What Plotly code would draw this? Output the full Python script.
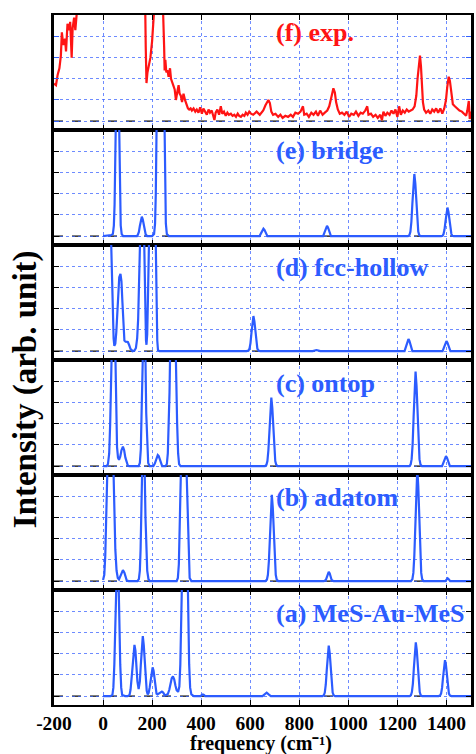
import plotly.graph_objects as go
from plotly.subplots import make_subplots

# ---------------- data ----------------
freq_ticks = [-200, 0, 200, 400, 600, 800, 1000, 1200, 1400]
freq_tick_labels = ["-200", "0", "200", "400", "600", "800", "1000", "1200", "1400"]

# (f) experiment
exp_freq = [-200, -192, -185, -178, -172, -168, -162, -155, -151, -145,
            -138, -134, -128, -124, -118, -113, -108, -103, -97, -90,
            170, 174, 177, 181, 186, 193, 200, 207, 211, 218,
            240, 245, 249, 251, 254, 258, 263, 267, 273, 277,
            281, 286, 292, 297, 303, 308, 312, 317, 322, 328,
            334, 339, 346, 351, 357, 362, 369, 376, 382, 389,
            396, 403, 409, 416, 423, 430, 436, 443, 450, 454,
            459, 466, 473, 480, 486, 493, 500, 507, 513, 521,
            528, 535, 542, 549, 555, 562, 569, 576, 582, 589,
            596, 603, 612, 626, 639, 653, 662, 669, 674, 680,
            686, 693, 703, 714, 723, 732, 743, 754, 765, 774,
            784, 795, 805, 815, 820, 830, 839, 849, 858, 868,
            876, 885, 895, 904, 914, 922, 928, 934, 939, 945,
            950, 957, 965, 974, 984, 993, 1003, 1012, 1022, 1031,
            1041, 1050, 1059, 1069, 1077, 1082, 1092, 1101, 1111, 1120,
            1130, 1137, 1143, 1151, 1159, 1168, 1176, 1184, 1192, 1200,
            1207, 1214, 1222, 1230, 1238, 1246, 1254, 1262, 1270, 1277,
            1282, 1288, 1292, 1296, 1300, 1304, 1309, 1317, 1326, 1334,
            1342, 1350, 1358, 1366, 1375, 1383, 1391, 1398, 1403, 1409,
            1414, 1419, 1426, 1434, 1443, 1453, 1463, 1472, 1480, 1485,
            1491, 1495, 1500]
exp_int = [1.77, 1.7, 2.2, 2.5, 3.1, 4.2, 3.6, 3.9, 3.3, 4.6,
           4.3, 4.7, 3.0, 4.4, 4.9, 4.3, 5.0, 5.3, 6.0, 7.0,
           7.0, 3.5, 1.8, 2.3, 2.6, 3.0, 3.8, 4.8, 5.5, 7.0,
           7.0, 5.5, 3.5, 2.4, 2.9, 2.3, 2.4, 2.1, 2.5, 2.0,
           1.9, 1.7, 1.5, 1.0, 1.4, 1.7, 1.3, 1.2, 0.9, 1.3,
           1.0, 0.8, 0.6, 0.55, 0.6, 0.5, 0.6, 0.45, 0.55, 0.4,
           0.65, 0.35, 0.6, 0.45, 0.3, 0.55, 0.4, 0.5, 0.25, 0.05,
           0.4, 0.55, 0.3, 0.7, 0.35, 0.45, 0.25, 0.4, 0.3, 0.35,
           0.25, 0.3, 0.2, 0.35, 0.25, 0.2, 0.3, 0.25, 0.4, 0.3,
           0.45, 0.35, 0.3, 0.45, 0.3, 0.5, 0.75, 0.95, 1.0, 0.85,
           0.45, 0.3, 0.35, 0.2, 0.3, 0.15, 0.25, 0.2, 0.3, 0.2,
           0.4, 0.35, 0.45, 0.7, 0.3, 0.35, 0.2, 0.4, 0.3, 0.45,
           0.25, 0.5, 0.3, 0.4, 0.5, 0.7, 1.1, 1.3, 1.55, 1.35,
           0.9, 0.55, 0.35, 0.4, 0.3, 0.45, 0.2, 0.35, 0.3, 0.45,
           0.25, 0.4, 0.35, 0.5, 0.7, 0.3, 0.35, 0.2, 0.3, 0.15,
           0.3, 0.05, 0.45, 0.25, 0.4, 0.3, 0.5, 0.35, 0.55, 0.2,
           0.7, 0.3, 0.5, 0.4, 0.55, 0.45, 0.5, 0.55, 0.7, 1.2,
           2.0, 2.8, 3.1, 2.6, 1.6, 0.9, 0.55, 0.4, 0.5, 0.35,
           0.55, 0.45, 0.6, 0.4, 0.6, 0.35, 0.6, 1.0, 1.6, 2.1,
           1.9, 1.3, 0.8, 0.7, 0.6, 0.5, 0.45, 0.35, 0.25, 0.5,
           0.95, 0.1, 0.45]

# (e) bridge
bridge_freq = [0, 12, 20, 28, 34, 40, 44, 47, 49, 51, 54, 58, 62, 65, 67, 69, 72, 76, 82, 90,
               138, 142, 146, 150, 154, 158, 162, 166, 170, 174, 180,
               200, 208, 212, 215, 217, 219, 224, 234, 244, 249, 251, 253, 256, 260, 268,
               638, 642, 646, 650, 654, 658, 662, 666, 670,
               897, 901, 905, 909, 913, 917, 921, 925, 929,
               1243, 1249, 1253, 1257, 1261, 1265, 1269, 1273, 1277, 1281, 1285, 1289, 1295,
               1378, 1384, 1388, 1392, 1396, 1400, 1404, 1408, 1412, 1416, 1420, 1424, 1430, 1500]
bridge_int = [0, 0.02, 0.06, 0.06, 0.05, 0.1, 0.5, 1.5, 3, 5, 8, 10, 8, 5, 3, 1.5, 0.5, 0.1, 0, 0,
              0, 0.07, 0.2, 0.48, 0.78, 0.92, 0.78, 0.48, 0.2, 0.07, 0,
              0, 0.1, 0.6, 2, 3.5, 5, 11, 20, 11, 5, 3.5, 2, 0.6, 0.1, 0,
              0, 0.08, 0.18, 0.30, 0.35, 0.30, 0.18, 0.08, 0,
              0, 0.11, 0.25, 0.41, 0.48, 0.41, 0.25, 0.11, 0,
              0, 0.05, 0.21, 0.68, 1.53, 2.50, 2.94, 2.50, 1.53, 0.68, 0.21, 0.05, 0,
              0, 0.02, 0.10, 0.31, 0.70, 1.15, 1.35, 1.15, 0.70, 0.31, 0.10, 0.02, 0, 0]

# (d) fcc-hollow
fcc_freq = [0, 20, 30, 33, 37, 40, 43, 46, 50, 54,
            58, 62, 66, 71, 75, 79, 83, 87, 92, 97,
            101, 106, 112, 120, 128, 134, 139, 143, 146, 148,
            150, 159, 168, 170, 173, 175, 177, 180, 183, 185,
            190, 200, 210, 215, 218, 221, 224, 230,
            585, 593, 597, 601, 605, 609, 613, 617, 621, 625, 629, 633, 640,
            855, 862, 870, 878, 885,
            1229, 1233, 1237, 1241, 1245, 1249, 1253, 1257, 1261,
            1384, 1388, 1392, 1396, 1400, 1404, 1408, 1412, 1416, 1500]
fcc_int = [12, 10, 6.5, 5, 3, 1.5, 0.6, 0.25, 0.35, 0.9,
           1.9, 2.9, 3.5, 3.65, 3.3, 2.3, 1.2, 0.5, 0.45, 0.45,
           0.43, 0.3, 0.1, 0.0, 0.03, 0.15, 0.6, 1.5, 2.8, 3.8,
           5, 9, 5, 3, 1.2, 0.5, 0.3, 0.8, 2.5, 5,
           10, 13, 10, 5, 2, 0.5, 0.05, 0,
           0, 0.03, 0.12, 0.38, 0.86, 1.41, 1.66, 1.41, 0.86, 0.38, 0.12, 0.03, 0,
           0, 0.03, 0.05, 0.03, 0,
           0, 0.13, 0.30, 0.48, 0.57, 0.48, 0.30, 0.13, 0,
           0, 0.11, 0.24, 0.40, 0.47, 0.40, 0.24, 0.11, 0, 0]

# (c) ontop
ontop_freq = [0, 15, 20, 25, 29, 32, 34, 38, 42, 46, 50, 53, 57, 61, 65, 70, 75, 81, 86, 91, 96, 101, 106,
              145, 150, 154, 157, 160, 165, 167, 170, 173, 176, 180, 184, 190,
              205, 211, 215, 219, 223, 227, 231, 235, 241,
              255, 260, 264, 268, 271, 273, 277, 285, 293, 297, 299, 302, 306, 310, 316,
              660, 666, 670, 674, 678, 682, 686, 690, 694, 698, 702, 706, 712,
              1248, 1254, 1258, 1262, 1266, 1270, 1274, 1278, 1282, 1286, 1290, 1294, 1300,
              1382, 1386, 1390, 1394, 1398, 1402, 1406, 1410, 1414, 1500]
ontop_int = [0, 0, 0.1, 0.6, 2, 3.5, 5, 8, 9, 8, 5, 2.5, 0.9, 0.4, 0.3, 0.45, 0.75, 0.92, 0.75, 0.4, 0.15, 0.03, 0,
             0, 0.15, 0.8, 2.5, 5, 7.5, 7.7, 6, 5, 2.5, 0.8, 0.15, 0,
             0, 0.12, 0.3, 0.47, 0.52, 0.47, 0.3, 0.12, 0,
             0, 0.1, 0.6, 2, 3.5, 5, 10, 16, 10, 5, 3.5, 2, 0.6, 0.1, 0,
             0, 0.06, 0.24, 0.75, 1.68, 2.75, 3.24, 2.75, 1.68, 0.75, 0.24, 0.06, 0,
             0, 0.08, 0.33, 1.03, 2.32, 3.80, 4.47, 3.80, 2.32, 1.03, 0.33, 0.08, 0,
             0, 0.11, 0.24, 0.40, 0.47, 0.40, 0.24, 0.11, 0, 0]

# (b) adatom
adatom_freq = [0, 5, 9, 12, 15, 17, 22, 30, 38, 43, 46, 50, 55, 60, 65, 70, 75, 81, 87, 92, 97, 105,
               140, 146, 150, 153, 156, 159, 164, 170, 173, 176, 180, 185, 190,
               300, 305, 309, 312, 315, 317, 320, 329, 338, 341, 343, 346, 349, 353, 360,
               662, 668, 672, 676, 680, 684, 688, 692, 696, 700, 704, 708, 714,
               900, 908, 912, 916, 920, 924, 928, 932, 940,
               1255, 1261, 1265, 1269, 1273, 1277, 1281, 1285, 1289, 1293, 1297, 1301, 1307,
               1395, 1400, 1405, 1410, 1415, 1500]
adatom_int = [0.05, 0.3, 1.2, 2.5, 4, 5, 9, 14, 9, 5, 3, 1.5, 0.5, 0.15, 0.08, 0.2, 0.4, 0.52, 0.4, 0.15, 0.02, 0,
              0, 0.1, 0.5, 1.5, 3, 5, 5.6, 5, 3, 1.5, 0.5, 0.1, 0,
              0, 0.15, 0.8, 2.2, 4, 5, 9, 15, 9, 5, 4, 2.2, 0.8, 0.15, 0,
              0, 0.07, 0.30, 0.94, 2.12, 3.47, 4.08, 3.47, 2.12, 0.94, 0.30, 0.07, 0,
              0, 0.05, 0.18, 0.36, 0.44, 0.36, 0.18, 0.05, 0,
              0, 0.09, 0.39, 1.22, 2.76, 4.5, 5.3, 4.5, 2.76, 1.22, 0.39, 0.09, 0,
              0, 0.08, 0.13, 0.08, 0, 0]

# (a) MeS-Au-MeS
mes_freq = [0, 30, 38, 42, 46, 49, 52, 58, 64, 67, 70, 74, 78, 90,
            100, 108, 112, 116, 120, 124, 128, 132, 136, 140, 145, 150, 154, 158, 162, 166,
            170, 174, 178, 182, 186, 190, 194, 198, 202, 206, 210, 214, 218, 222, 230, 236,
            240, 245, 250, 256, 264, 270, 275, 280, 285, 290, 295, 300, 306, 311, 315, 318,
            321, 325, 334, 343, 346, 348, 351, 355, 360, 370,
            398, 403, 407, 411, 416,
            650, 659, 667, 675, 684,
            894, 900, 904, 908, 912, 916, 920, 924, 928, 932, 936, 940, 946,
            1249, 1255, 1259, 1263, 1267, 1271, 1275, 1279, 1283, 1287, 1291, 1295, 1301,
            1368, 1374, 1378, 1382, 1386, 1390, 1394, 1398, 1402, 1406, 1410, 1414, 1420, 1500]
mes_int = [0, 0, 0.05, 0.4, 1.5, 3, 5, 7, 5, 3, 1.5, 0.4, 0.05, 0,
           0, 0.05, 0.3, 0.8, 1.5, 2.15, 2.42, 2.15, 1.4, 0.7, 0.33, 0.7, 1.5, 2.4, 2.84, 2.4,
           1.5, 0.7, 0.25, 0.08, 0.15, 0.4, 0.8, 1.2, 1.36, 1.2, 0.75, 0.35, 0.12, 0.08, 0.14, 0.2,
           0.21, 0.17, 0.07, 0.04, 0.1, 0.3, 0.6, 0.85, 0.93, 0.8, 0.5, 0.28, 0.2, 0.45, 1.5, 3,
           5, 9, 15, 9, 5, 3, 1.5, 0.4, 0.08, 0,
           0, 0.06, 0.08, 0.06, 0,
           0, 0.08, 0.16, 0.08, 0,
           0, 0.04, 0.17, 0.55, 1.24, 2.03, 2.39, 2.03, 1.24, 0.55, 0.17, 0.04, 0,
           0, 0.04, 0.19, 0.58, 1.32, 2.16, 2.54, 2.16, 1.32, 0.58, 0.19, 0.04, 0,
           0, 0.03, 0.12, 0.39, 0.88, 1.45, 1.7, 1.45, 0.88, 0.39, 0.12, 0.03, 0, 0]

panel_labels = ["(f) exp.", "(e) bridge", "(d) fcc-hollow", "(c) ontop", "(b) adatom", "(a) MeS-Au-MeS"]
panel_freqs = [exp_freq, bridge_freq, fcc_freq, ontop_freq, adatom_freq, mes_freq]
panel_ints = [exp_int, bridge_int, fcc_int, ontop_int, adatom_int, mes_int]

for fx, fy in zip(panel_freqs, panel_ints):
    assert len(fx) == len(fy), (len(fx), len(fy))

# ---------------- styling ----------------
RED = "#ff1414"
BLUE = "#2c5cff"
GRID = "rgba(60,100,255,0.75)"
FONT = "Liberation Serif"
panel_colors = [RED, BLUE, BLUE, BLUE, BLUE, BLUE]

W, H = 476, 754
ML, MR, MT, MB = 54, 2, 15, 49
PW = W - ML - MR
PH = H - MT - MB

fig = make_subplots(rows=6, cols=1, shared_xaxes=True, vertical_spacing=0)

for i in range(6):
    r = i + 1
    fig.add_trace(go.Scatter(x=panel_freqs[i], y=panel_ints[i], mode="lines",
                             line=dict(color=panel_colors[i], width=2.2),
                             showlegend=False, hoverinfo="skip"), row=r, col=1)
    fig.add_hline(y=0, line=dict(color="black", width=1.2, dash="dash"), row=r, col=1, layer="below")

    fig.update_xaxes(range=[-200, 1500], tickvals=freq_ticks, ticktext=freq_tick_labels,
                     showgrid=True, gridcolor=GRID,
                     griddash="dot", gridwidth=1, showline=True, linecolor="black", linewidth=1.6,
                     mirror="ticks", ticks="inside", ticklen=5, tickwidth=1, tickcolor="black",
                     zeroline=False, row=r, col=1)
    fig.update_yaxes(range=[-0.42, 5.02], tickvals=[0, 1, 2, 3, 4, 5], showticklabels=False,
                     showgrid=True, gridcolor=GRID, griddash="dot", gridwidth=1,
                     showline=True, linecolor="black", linewidth=2.5, mirror="ticks",
                     ticks="inside", ticklen=5, tickwidth=1,
                     tickcolor=("#3060ff" if i == 0 else "black"),
                     zeroline=False, row=r, col=1)

fig.update_xaxes(showticklabels=True,
                 tickfont=dict(family=FONT, size=19.5, color="black", weight="bold"),
                 ticklabelstandoff=0, row=6, col=1)

label_py = [33, 150, 267, 383, 497, 613]
for i in range(6):
    fig.add_annotation(text="<b>%s</b>" % panel_labels[i], xref="paper", yref="paper",
                       x=(276 - ML) / PW, y=(H - MB - label_py[i]) / PH,
                       xanchor="left", yanchor="middle", showarrow=False,
                       font=dict(family=FONT, size=26, color=panel_colors[i]))

fig.add_annotation(text="<b>Intensity (arb. unit)</b>", xref="paper", yref="paper",
                   x=(25 - ML) / PW, y=(H - MB - 389) / PH, textangle=-90,
                   xanchor="center", yanchor="middle", showarrow=False,
                   font=dict(family=FONT, size=33, color="black"))
fig.add_annotation(text="<b>frequency (cm\u207b\u00b9)</b>", xref="paper", yref="paper",
                   x=(262 - ML) / PW, y=(H - MB - 743) / PH,
                   xanchor="center", yanchor="middle", showarrow=False,
                   font=dict(family=FONT, size=20, color="black"))

fig.update_layout(width=W, height=H, margin=dict(l=ML, r=MR, t=MT, b=MB),
                  paper_bgcolor="white", plot_bgcolor="white", showlegend=False)

fig.write_html("out.html", config={"displayModeBar": False})

# remove the browser's default page margin so the figure sits at the window origin
with open("out.html", "r", encoding="utf-8") as fh:
    html = fh.read()
html = html.replace("<head>", "<head><style>html,body{margin:0;padding:0;overflow:hidden;}</style>", 1)
with open("out.html", "w", encoding="utf-8") as fh:
    fh.write(html)
